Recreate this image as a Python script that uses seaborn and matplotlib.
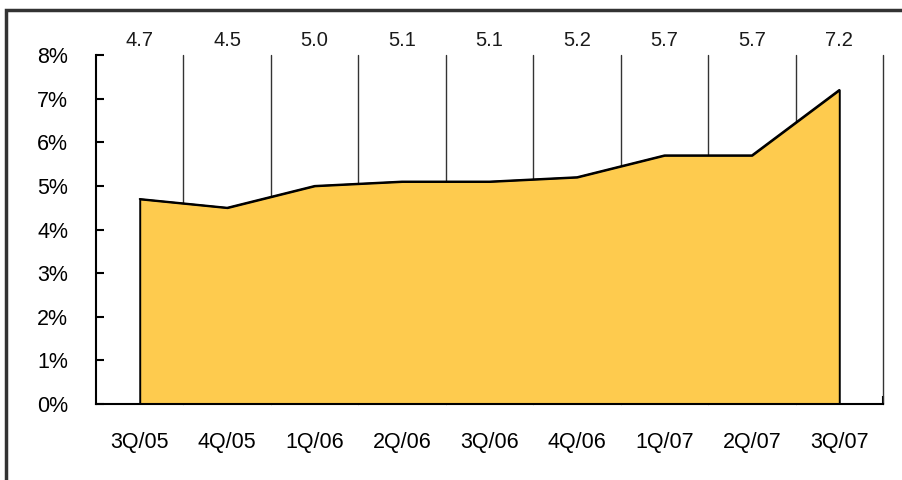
import matplotlib
matplotlib.use('Agg')
import matplotlib.pyplot as plt
import matplotlib.patches as patches
import matplotlib.transforms as mtransforms
import seaborn as sns
import pandas as pd
import numpy as np

# Data
quarters = ['3Q/05', '4Q/05', '1Q/06', '2Q/06', '3Q/06', '4Q/06', '1Q/07', '2Q/07', '3Q/07']
rates = [4.7, 4.5, 5.0, 5.1, 5.1, 5.2, 5.7, 5.7, 7.2]
y_ticks = [0, 1, 2, 3, 4, 5, 6, 7, 8]

fill_color = '#FECB4E'

sns.set_style('white')
plt.rcParams['font.family'] = ['Liberation Sans', 'DejaVu Sans']

df = pd.DataFrame({'quarter': quarters, 'rate': rates})
df['pos'] = np.arange(len(df))

fig = plt.figure(figsize=(9.03, 4.8), dpi=100)
ax = fig.add_axes([96 / 903, 76 / 480, 787 / 903, 349 / 480])

# Vertical separators between quarters
for b in np.arange(len(df)) + 0.5:
    ax.axvline(b, color='#333333', lw=1.0, zorder=1, clip_on=False)

# Area
ax.fill_between(df['pos'], 0, df['rate'], facecolor=fill_color,
                edgecolor='black', lw=1.4, zorder=2)
sns.lineplot(data=df, x='pos', y='rate', color='black', lw=1.4, ax=ax, zorder=3)

ax.set_xlim(-0.5, len(df) - 0.5)
ax.set_ylim(0, 8)
ax.set_yticks(y_ticks)
ax.set_yticklabels([f'{t}%' for t in y_ticks])
ax.set_xticks(df['pos'])
ax.set_xticklabels(df['quarter'])
ax.set_xticks(np.arange(len(df)) + 0.5, minor=True)
ax.set_xlabel('')
ax.set_ylabel('')

ax.tick_params(axis='x', which='major', length=0, pad=20, labelsize=15.5,
               labelcolor='black')
ax.tick_params(axis='x', which='minor', direction='in', length=6, width=1.5,
               color='black', bottom=True)
ax.tick_params(axis='y', which='major', direction='in', length=6, width=1.5,
               color='black', pad=20, labelsize=15.5, labelcolor='black', left=True)

for side in ['top', 'right']:
    ax.spines[side].set_visible(False)
for side in ['left', 'bottom']:
    ax.spines[side].set_color('black')
    ax.spines[side].set_linewidth(1.5)
    ax.spines[side].set_zorder(4)

# Value labels above the plot
trans = mtransforms.blended_transform_factory(ax.transData, ax.transAxes)
for p, v in zip(df['pos'], df['rate']):
    ax.text(p, 1.042, f'{v:.1f}', transform=trans, ha='center', va='center',
            fontsize=14.5, color='#1a1a1a')

# Outer frame
frame = patches.Rectangle((5.5 / 903, -0.2), 1.2, 0.2 + 1 - 9.5 / 480,
                          transform=fig.transFigure, fill=False,
                          edgecolor='#333333', lw=2.5, clip_on=False)
fig.patches.append(frame)

fig.savefig('out.png', dpi=100)
plt.close(fig)
